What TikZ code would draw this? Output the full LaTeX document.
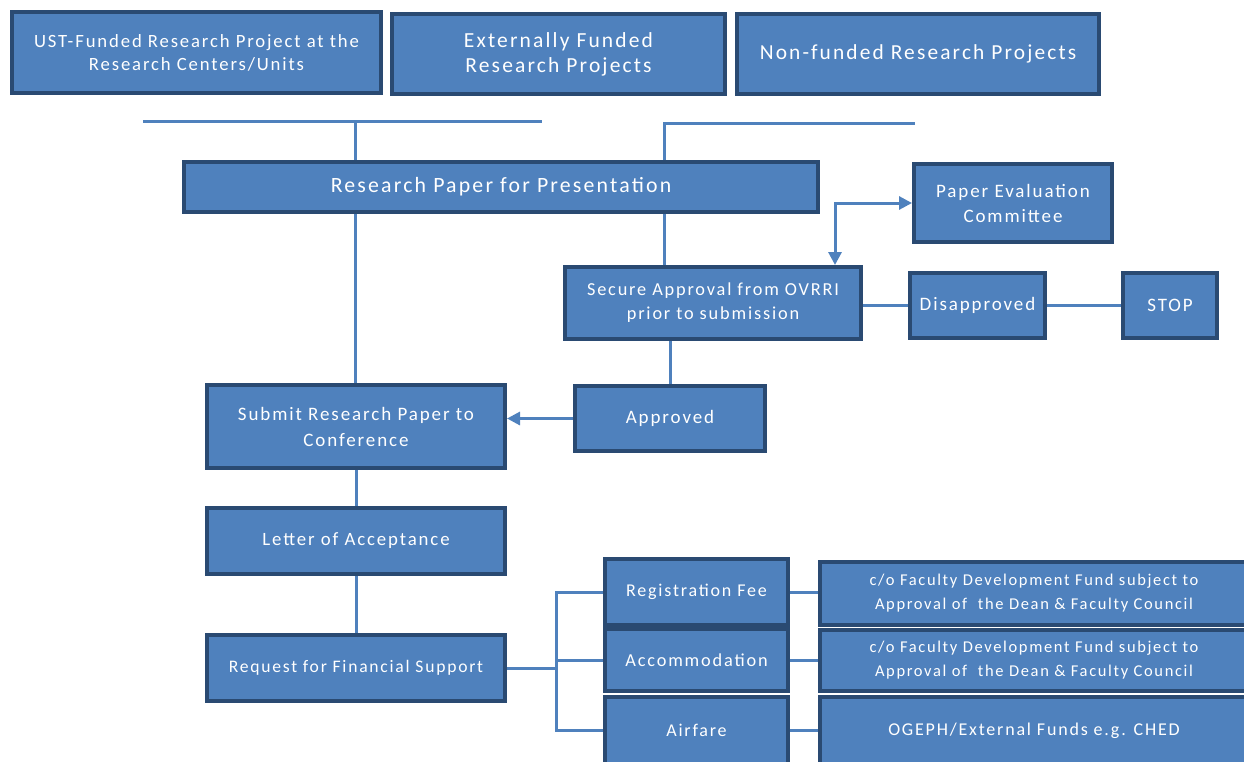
\documentclass[tikz,border=0pt]{standalone}
\usepackage{fontspec}
\setmainfont[LetterSpace=10]{Carlito}
\usetikzlibrary{arrows.meta}
\definecolor{boxfill}{HTML}{4F81BD}
\definecolor{boxline}{HTML}{2A4A72}
\definecolor{connc}{HTML}{4F81BD}
\newcommand{\myfs}[2]{\fontsize{#1}{#2}\selectfont}
\tikzset{
  box/.style={draw=boxline, line width=4pt, fill=boxfill, text=white, align=center, inner sep=0pt},
  conn/.style={draw=connc, line width=3pt},
  tip/.tip={Triangle[length=13pt,width=13pt]},
  arr/.style={conn, -tip},
}
\begin{document}
\begin{tikzpicture}[x=1pt,y=-1pt]
\useasboundingbox (0,0) rectangle (1244,761);
\clip (0,0) rectangle (1244,761);
% nodes
\node[box, minimum width=369, minimum height=81, font=\myfs{18.7}{23}] (ust) at (196.5,52.5) {UST-Funded Research Project at the\\Research Centers/Units};
\node[box, minimum width=333, minimum height=80, font=\myfs{21.5}{25}] (ext) at (558.5,54) {Externally Funded\\Research Projects};
\node[box, minimum width=362, minimum height=80, font=\myfs{21.4}{25}] (non) at (918,54) {Non-funded Research Projects};
\node[box, minimum width=634, minimum height=50, font=\myfs{21.8}{25}] (rp) at (501,187) {Research Paper for Presentation};
\node[box, minimum width=198, minimum height=78, font=\myfs{19}{25}] (pec) at (1013,203) {Paper Evaluation\\Committee};
\node[box, minimum width=296, minimum height=72, font=\myfs{18.3}{24}] (sec) at (713,303) {Secure Approval from OVRRI\\prior to submission};
\node[box, minimum width=135, minimum height=65, font=\myfs{19}{24}] (dis) at (977.5,305.5) {Disapproved};
\node[box, minimum width=94, minimum height=65, font=\myfs{19}{24}] (stop) at (1170,305.5) {STOP};
\node[box, minimum width=190, minimum height=65, font=\myfs{19}{24}] (app) at (670,418.5) {Approved};
\node[box, minimum width=298, minimum height=83, font=\myfs{19}{26}] (sub) at (356,426.5) {Submit Research Paper to\\Conference};
\node[box, minimum width=298, minimum height=66, font=\myfs{18.8}{24}] (let) at (356,541) {Letter of Acceptance};
\node[box, minimum width=298, minimum height=66, font=\myfs{17.6}{24}] (req) at (356,668) {Request for Financial Support};
\node[box, minimum width=183, minimum height=66, font=\myfs{18}{24}] (reg) at (696.5,592) {Registration Fee};
\node[box, minimum width=183, minimum height=62, font=\myfs{18.3}{24}] (acc) at (696.5,660) {Accommodation};
\node[box, minimum width=183, minimum height=67, font=\myfs{18}{24}] (air) at (696.5,730.5) {Airfare};
\node[box, minimum width=428, minimum height=63, font=\myfs{16.5}{24}] (cfa) at (1034,593.5) {c/o Faculty Development Fund subject to\\Approval of~ the Dean \& Faculty Council};
\node[box, minimum width=428, minimum height=61, font=\myfs{16.5}{24}] (cfb) at (1034,660.5) {c/o Faculty Development Fund subject to\\Approval of~ the Dean \& Faculty Council};
\node[box, minimum width=428, minimum height=67, font=\myfs{18}{24}] (cfc) at (1034,730.5) {OGEPH/External Funds e.g. CHED};
% connectors
\coordinate (tl) at (143,121);
\coordinate (tr) at (542,121);
\coordinate (tj) at (355,121);
\coordinate (rj) at (664,123);
\coordinate (rr) at (915,123);
\coordinate (pc) at (835,203);
\coordinate (bx) at (556,0);
\draw[conn] (tl) -- (tr);
\draw[conn] (tj) -- (tj |- rp.north);
\draw[conn] (rj |- rp.north) -- (rj) -- (rr);
\draw[conn] (rp.south -| tj) -- (sub.north -| tj);
\draw[conn] (rp.south -| rj) -- (sec.north -| rj);
\draw[conn, tip-tip] (pc |- sec.north) -- (pc) -- (pec.west);
\draw[conn] (sec.east |- dis.west) -- (dis.west);
\draw[conn] (dis.east) -- (stop.west);
\draw[conn] (sec.south -| app.north) -- (app.north);
\draw[arr] (app.west) -- (app.west -| sub.east);
\draw[conn] (sub.south) -- (let.north);
\draw[conn] (let.south) -- (req.north);
\draw[conn] (req.east) -- (req.east -| bx);
\draw[conn] (reg.west) -- (reg.west -| bx) -- (air.west -| bx) -- (air.west);
\draw[conn] (acc.west) -- (acc.west -| bx);
\draw[conn] (reg.east) -- (reg.east -| cfa.west);
\draw[conn] (acc.east) -- (acc.east -| cfb.west);
\draw[conn] (air.east) -- (air.east -| cfc.west);
\end{tikzpicture}
\end{document}
